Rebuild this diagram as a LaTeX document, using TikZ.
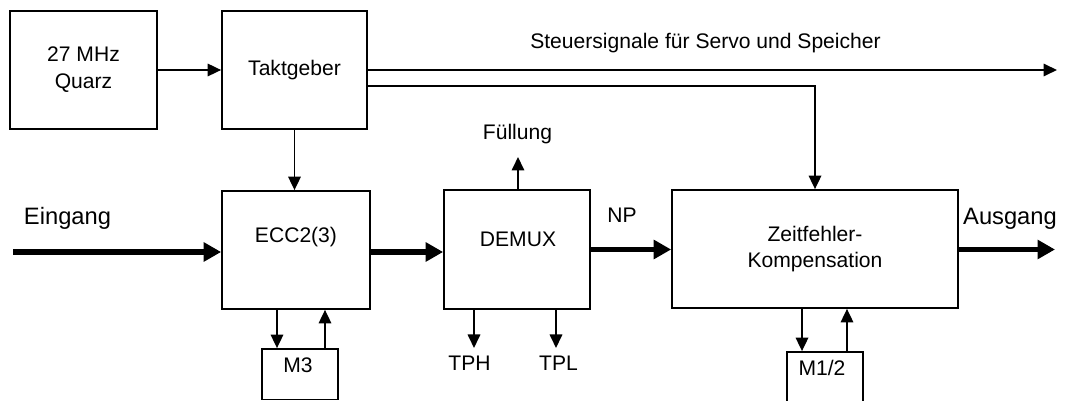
\documentclass[tikz,border=0pt]{standalone}
\usepackage{fontspec}
\setmainfont{Liberation Sans}
\usetikzlibrary{arrows.meta}

\tikzset{
	block/.style={draw, line width=1pt, inner sep=0pt, align=center},
	sig/.style={line width=1pt, -{Triangle[length=0.27cm,width=0.25cm]}},
	bus/.style={line width=3pt, -{Triangle[length=0.35cm,width=0.37cm]}},
	txt/.style={anchor=base, inner sep=0pt},
	io/.style={txt, font=\fontsize{13.5}{16}\selectfont},
}

\begin{document}
\begin{tikzpicture}[x=0.02cm, y=-0.02cm, font=\fontsize{12}{15.3}\selectfont]
		\useasboundingbox (0,0) rectangle (1065,401);
		
		% Bloecke
		\node[block, minimum width=2.94cm, minimum height=2.36cm] (quarz) at (83.5,70) {27 MHz\\Quarz};
		\node[block, minimum width=2.90cm, minimum height=2.36cm] (takt) at (294.5,70) {Taktgeber};
		\node[block, minimum width=2.96cm, minimum height=2.36cm] (ecc) at (296,250) {};
		\node[block, minimum width=2.92cm, minimum height=2.38cm] (demux) at (517,249.5) {};
		\node[block, minimum width=5.72cm, minimum height=2.36cm] (zeit) at (815,249) {Zeitfehler-\\Kompensation};
		\node[block, minimum width=1.52cm, minimum height=1.01cm] (m3) at (300,374.25) {};
		\node[block, minimum width=1.52cm, minimum height=1.26cm] (m12) at (825,383.5) {};
		
		\node[txt] (ecclbl) at (296,243) {ECC2(3)};
		\node[txt] (demuxlbl) at (518,247) {DEMUX};
		\node[txt] (m3lbl) at (298,373) {M3};
		\node[txt] (m12lbl) at (822,376) {M1/2};
		
		% Takt und Steuersignale
		\coordinate (ctrl) at (1057,70);
		\draw[sig] (quarz) -- (takt);
		\draw[sig] (takt.east) -- (ctrl);
		\draw[sig] ([yshift=-0.32cm]takt.east) -| (zeit.north);
		\draw[sig] (takt) -- (takt |- ecc.north);
		\node[txt] (ctrllbl) at (705.5,49) {Steuersignale für Servo und Speicher};
		
		% Datenweg
		\coordinate (in) at (13,252);
		\coordinate (out) at (1055,249.5);
		\draw[bus] (in) -- (in -| ecc.west);
		\draw[bus] (ecc.east |- in) -- (demux.west |- in);
		\draw[bus] (demux.east) -- (demux.east -| zeit.west);
		\draw[bus] (zeit.east |- out) -- (out);
		\node[io] (inlbl) at (67.5,225) {Eingang};
		\node[io] (outlbl) at (1010,225) {Ausgang};
		\node[txt] (nplbl) at (622,223) {NP};
		
		% Nebenausgaenge DEMUX
		\coordinate (fill) at (518,157);
		\coordinate (tph) at (474,348);
		\coordinate (tpl) at (556,348);
		\draw[sig] (fill |- demux.north) -- (fill);
		\draw[sig] (tph |- demux.south) -- (tph);
		\draw[sig] (tpl |- demux.south) -- (tpl);
		\node[txt] (filllbl) at (517.5,140) {Füllung};
		\node[txt] (tphlbl) at (469.5,371) {TPH};
		\node[txt] (tpllbl) at (558.5,371) {TPL};
		
		% Speicher
		\draw[sig] ([xshift=-0.46cm]m3.north |- ecc.south) -- ([xshift=-0.46cm]m3.north);
		\draw[sig] ([xshift=0.5cm]m3.north) -- ([xshift=0.5cm]m3.north |- ecc.south);
		\draw[sig] ([xshift=-0.46cm]m12.north |- zeit.south) -- ([xshift=-0.46cm]m12.north);
		\draw[sig] ([xshift=0.44cm]m12.north) -- ([xshift=0.44cm]m12.north |- zeit.south);
	\end{tikzpicture}
\end{document}
